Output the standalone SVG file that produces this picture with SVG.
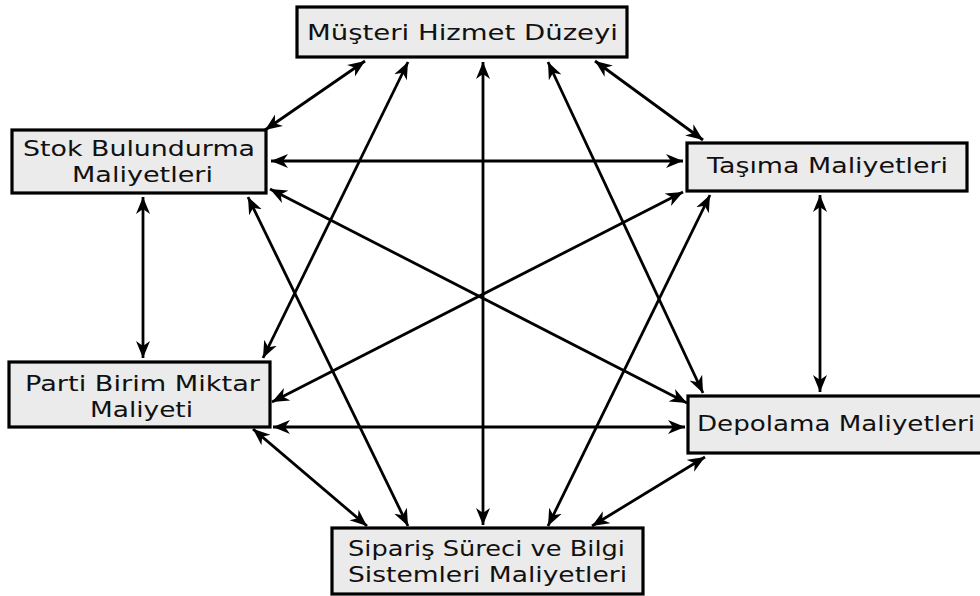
<svg xmlns="http://www.w3.org/2000/svg" width="980" height="596" viewBox="0 0 980 596">
  <style>
    .box { fill: #ebebeb; stroke: #000; stroke-width: 3.2; }
    .lbl { font-family: "DejaVu Sans", "Liberation Sans", sans-serif; font-size: 22px; fill: #111; text-anchor: middle; }
    .link { stroke: #000; stroke-width: 2.8; fill: none; marker-start: url(#head); marker-end: url(#head); }
  </style>
  <defs>
    <marker id="head" markerUnits="userSpaceOnUse" markerWidth="18" markerHeight="16" refX="17" refY="8" orient="auto-start-reverse" viewBox="0 0 18 16">
      <path d="M0,1 L17,8 L0,15 L5,8 z" fill="#000"/>
    </marker>
  </defs>
  <rect width="980" height="596" fill="#fff"/>

  <!-- connectors: every pair of cost factors is linked both ways -->
  <g id="connectors">
    <line class="link" x1="365" y1="61" x2="265" y2="130"/>
    <line class="link" x1="408" y1="62" x2="263" y2="358"/>
    <line class="link" x1="483" y1="62" x2="483" y2="525"/>
    <line class="link" x1="548" y1="62" x2="703" y2="393"/>
    <line class="link" x1="595" y1="61" x2="703" y2="140"/>
    <line class="link" x1="271" y1="161" x2="683" y2="161"/>
    <line class="link" x1="270" y1="189" x2="687" y2="403"/>
    <line class="link" x1="248" y1="197" x2="408" y2="526"/>
    <line class="link" x1="143" y1="197" x2="143" y2="358"/>
    <line class="link" x1="683" y1="192" x2="272" y2="402"/>
    <line class="link" x1="710" y1="195" x2="548" y2="526"/>
    <line class="link" x1="820" y1="195" x2="820" y2="392"/>
    <line class="link" x1="273" y1="427" x2="685" y2="427"/>
    <line class="link" x1="253" y1="429" x2="367" y2="526"/>
    <line class="link" x1="705" y1="457" x2="592" y2="526"/>
  </g>

  <g id="musteri">
    <rect class="box" x="297" y="7" width="330" height="50"/>
    <text class="lbl" x="462.5" y="40" textLength="311" lengthAdjust="spacingAndGlyphs">Müşteri Hizmet Düzeyi</text>
  </g>
  <g id="stok">
    <rect class="box" x="12" y="130" width="254" height="63"/>
    <text class="lbl" x="139" y="156" textLength="232" lengthAdjust="spacingAndGlyphs">Stok Bulundurma</text>
    <text class="lbl" x="142.5" y="182" textLength="141" lengthAdjust="spacingAndGlyphs">Maliyetleri</text>
  </g>
  <g id="tasima">
    <rect class="box" x="687" y="143" width="280" height="48"/>
    <text class="lbl" x="827.5" y="173" textLength="241" lengthAdjust="spacingAndGlyphs">Taşıma Maliyetleri</text>
  </g>
  <g id="parti">
    <rect class="box" x="9" y="362" width="261" height="65"/>
    <text class="lbl" x="142.5" y="391" textLength="235" lengthAdjust="spacingAndGlyphs">Parti Birim Miktar</text>
    <text class="lbl" x="141.5" y="417" textLength="103" lengthAdjust="spacingAndGlyphs">Maliyeti</text>
  </g>
  <g id="depolama">
    <rect class="box" x="688" y="396" width="300" height="57"/>
    <text class="lbl" x="836" y="431" textLength="278" lengthAdjust="spacingAndGlyphs">Depolama Maliyetleri</text>
  </g>
  <g id="siparis">
    <rect class="box" x="332" y="528" width="311" height="66"/>
    <text class="lbl" x="486.5" y="556" textLength="277" lengthAdjust="spacingAndGlyphs">Sipariş Süreci ve Bilgi</text>
    <text class="lbl" x="487.5" y="582" textLength="279" lengthAdjust="spacingAndGlyphs">Sistemleri Maliyetleri</text>
  </g>
</svg>
